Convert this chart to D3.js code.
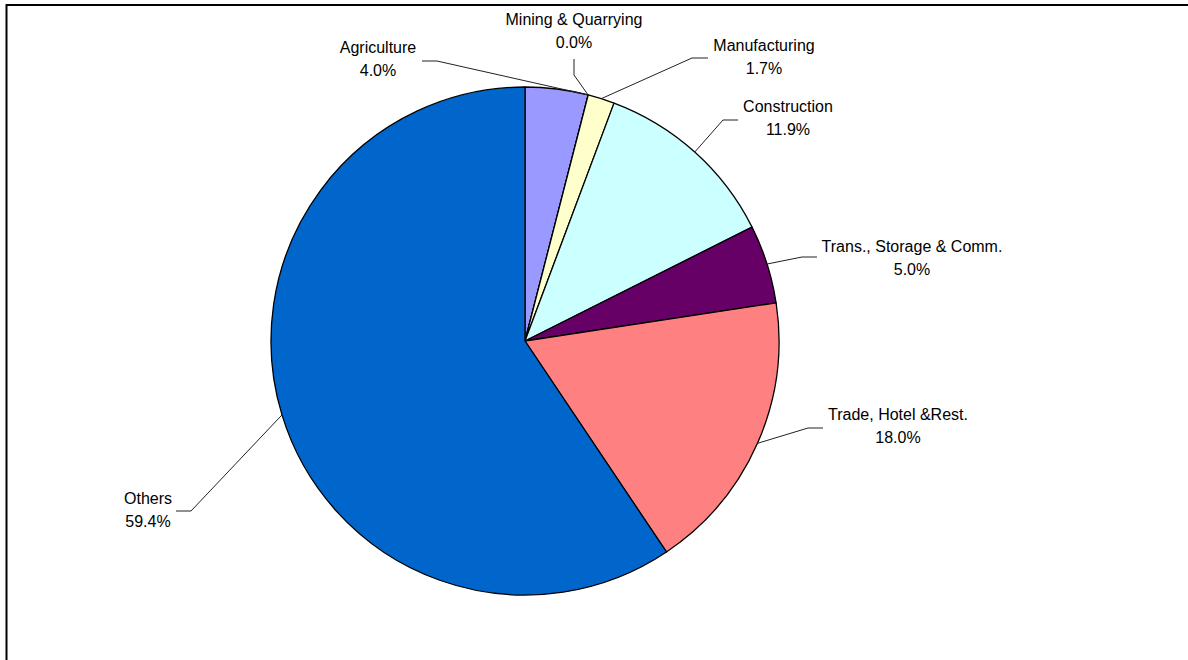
<!DOCTYPE html>
<html>
<head>
<meta charset="utf-8">
<script src="https://cdn.jsdelivr.net/npm/d3@7"></script>
<style>
  html, body { margin: 0; padding: 0; background: #fff; }
  svg { display: block; }
  .slice-label { font-family: "Liberation Sans", Arial, sans-serif; font-size: 16px; fill: #000; }
</style>
</head>
<body>
<div id="chart"></div>
<script>
// Data
const categories = ['Agriculture', 'Mining & Quarrying', 'Manufacturing', 'Construction',
    'Trans., Storage & Comm.', 'Trade, Hotel &Rest.', 'Others'];
const shares = [4.0, 0.0, 1.7, 11.9, 5.0, 18.0, 59.4];
const colors = ['#9999FF', '#993366', '#FFFFCC', '#CCFFFF', '#660066', '#FF8080', '#0066CC'];

// Label layout (centre x, first baseline, leader start and elbow, where on the slice the leader lands)
const labelX = [378, 574, 764, 788, 912, 898, 148];
const labelY = [53, 25, 51, 112, 252, 420, 504];
const leaderStart = [[422, 61], [574, 59], [708, 58], [738, 120], [817, 257], [823, 428], [176, 511]];
const leaderElbow = [[437, 61], [574, 75], [692, 58], [723, 120], [802, 257], [808, 428], [191, 511]];
const leaderAt = [1, 0.5, 0.5, 0.5, 0.5, 0.5, 0.5];

const width = 1188, height = 660;
const center = { x: 525, y: 341 };
const radius = 254;

const svg = d3.select('#chart')
    .append('svg')
    .attr('width', width)
    .attr('height', height);

// Chart frame (top and left edges visible)
svg.append('path')
    .attr('d', `M6.5,${height} L6.5,5 L${width},5`)
    .attr('fill', 'none')
    .attr('stroke', '#000')
    .attr('stroke-width', 2);

const pie = d3.pie().sort(null).value(d => d.value);
const arcs = pie(categories.map((c, i) => ({ name: c, value: shares[i], color: colors[i] })));

const arc = d3.arc().innerRadius(0).outerRadius(radius);

const g = svg.append('g')
    .attr('transform', `translate(${center.x},${center.y})`);

g.selectAll('path.slice')
    .data(arcs)
    .join('path')
    .attr('class', 'slice')
    .attr('d', arc)
    .attr('fill', d => d.data.color)
    .attr('stroke', '#000')
    .attr('stroke-width', 1.3)
    .attr('stroke-linejoin', 'round');

// Leader lines
const line = d3.line();
svg.selectAll('path.leader')
    .data(arcs)
    .join('path')
    .attr('class', 'leader')
    .attr('d', (d, i) => {
        const a = d.startAngle + (d.endAngle - d.startAngle) * leaderAt[i];
        const p = [center.x + radius * Math.sin(a), center.y - radius * Math.cos(a)];
        return line([leaderStart[i], leaderElbow[i], p]);
    })
    .attr('fill', 'none')
    .attr('stroke', '#222')
    .attr('stroke-width', 1);

// Labels
const fmt = d3.format('.1%');
const labels = svg.selectAll('text.slice-label')
    .data(arcs)
    .join('text')
    .attr('class', 'slice-label')
    .attr('text-anchor', 'middle');

labels.append('tspan')
    .attr('x', (d, i) => labelX[i])
    .attr('y', (d, i) => labelY[i])
    .text(d => d.data.name);

labels.append('tspan')
    .attr('x', (d, i) => labelX[i])
    .attr('y', (d, i) => labelY[i] + 23)
    .text(d => fmt(d.data.value / 100));
</script>
</body>
</html>
